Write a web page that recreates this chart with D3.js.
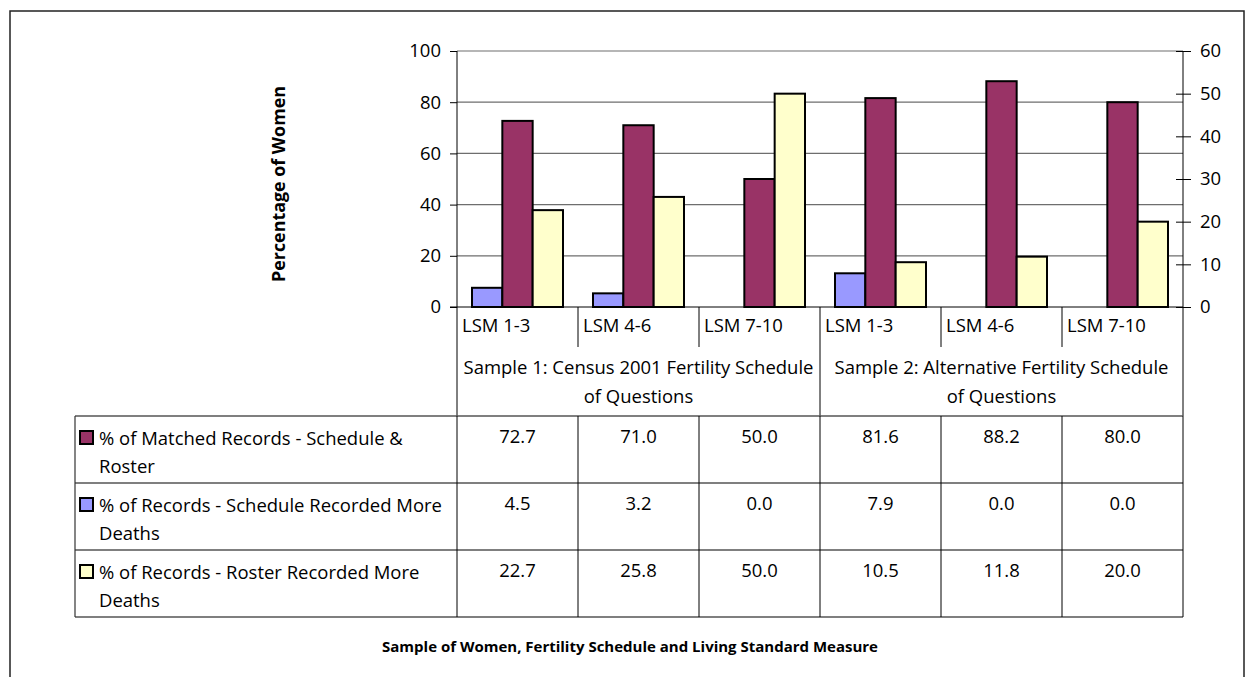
<!DOCTYPE html>
<html><head><meta charset="utf-8">
<script src="https://cdn.jsdelivr.net/npm/d3@7"></script>
<style>
html,body{margin:0;padding:0;background:#fff;}
svg{display:block;}
text{font-family:"Open Sans", Lato, sans-serif;fill:#000;}
</style></head>
<body>
<svg id="chart" width="1246" height="677"></svg>
<script>
const categories = ["LSM 1-3","LSM 4-6","LSM 7-10","LSM 1-3","LSM 4-6","LSM 7-10"];
const groupLabels = [
  ["Sample 1: Census 2001 Fertility Schedule","of Questions"],
  ["Sample 2: Alternative Fertility Schedule","of Questions"]
];
const matched = [72.7, 71.0, 50.0, 81.6, 88.2, 80.0];
const scheduleMore = [4.5, 3.2, 0.0, 7.9, 0.0, 0.0];
const rosterMore = [22.7, 25.8, 50.0, 10.5, 11.8, 20.0];
const seriesLabels = [
  ["% of Matched Records - Schedule &","Roster"],
  ["% of Records - Schedule Recorded More","Deaths"],
  ["% of Records - Roster Recorded More","Deaths"]
];
const leftTicks = [0,20,40,60,80,100];
const rightTicks = [0,10,20,30,40,50,60];
const yTitle = "Percentage of Women";
const xTitle = "Sample of Women, Fertility Schedule and Living Standard Measure";

const colors = {matched:"#993366", schedule:"#9999FF", roster:"#FFFFCC"};

const svg = d3.select("#chart");
const L = 457, R = 1183, T = 51, B = 307;
const tableLeft = 75;
const rowY = [416, 483, 550, 617];

// fit a font size so that a given string has a target width
function fitSize(str, target, weight){
  const t = svg.append("text").style("font-size","100px").style("font-weight",weight||"normal").text(str);
  const w = t.node().getComputedTextLength();
  t.remove();
  return 100*target/w;
}
const fs = Math.min(19, fitSize("Sample 1: Census 2001 Fertility Schedule", 350));
const fsY = fitSize(yTitle, 196, "bold");
const fsX = fitSize(xTitle, 496, "bold");

// outer frame
svg.append("rect").attr("x",10).attr("y",11).attr("width",1234).attr("height",700)
  .attr("fill","#fff").attr("stroke","#222").attr("stroke-width",1.5);

const x = d3.scaleBand().domain(d3.range(categories.length)).range([L,R]).paddingInner(0).paddingOuter(0);
const seriesOrder = ["schedule","matched","roster"];
const xs = d3.scaleBand().domain(seriesOrder).range([15, x.bandwidth()-15]);
const yL = d3.scaleLinear().domain([0,100]).range([B,T]);
const yR = d3.scaleLinear().domain([0,60]).range([B,T]);

// gridlines
svg.append("g").selectAll("line").data(leftTicks.filter(d=>d>0)).join("line")
  .attr("x1",L).attr("x2",R).attr("y1",d=>yL(d)).attr("y2",d=>yL(d))
  .attr("stroke","#6e6e6e").attr("stroke-width",1.2);

// bars
const barData = [];
categories.forEach((c,i)=>{
  barData.push({i, s:"schedule", v:scheduleMore[i], y:yR});
  barData.push({i, s:"matched", v:matched[i], y:yL});
  barData.push({i, s:"roster", v:rosterMore[i], y:yR});
});
svg.append("g").selectAll("rect").data(barData.filter(d=>d.v>0)).join("rect")
  .attr("x",d=>x(d.i)+xs(d.s)).attr("width",xs.bandwidth())
  .attr("y",d=>d.y(d.v)).attr("height",d=>B-d.y(d.v))
  .attr("fill",d=>colors[d.s]).attr("stroke","#000").attr("stroke-width",2);

// left axis
const gL = svg.append("g").attr("transform",`translate(${L},0)`)
  .call(d3.axisLeft(yL).tickValues(leftTicks).tickSize(7).tickPadding(9).tickFormat(d3.format("d")));
gL.select(".domain").remove();
gL.selectAll("line").attr("stroke","#000");
gL.selectAll("text").style("font-size",fs+"px").style("font-family",null);
svg.append("line").attr("x1",L).attr("x2",L).attr("y1",T).attr("y2",B).attr("stroke","#000");

// right axis
const gR = svg.append("g").attr("transform",`translate(${R},0)`)
  .call(d3.axisRight(yR).tickValues(rightTicks).tickSize(8).tickPadding(9).tickFormat(d3.format("d")));
gR.select(".domain").remove();
gR.selectAll("line").attr("stroke","#000").attr("x1",-7);
gR.selectAll("text").style("font-size",fs+"px").style("font-family",null);
svg.append("line").attr("x1",R).attr("x2",R).attr("y1",T).attr("y2",B).attr("stroke","#000");

// zero line
svg.append("line").attr("x1",L-7).attr("x2",R).attr("y1",B).attr("y2",B).attr("stroke","#000");

// category labels
svg.append("g").selectAll("text").data(categories).join("text")
  .attr("x",(d,i)=>x(i)+5).attr("y",332).style("font-size",fs+"px").text(d=>d);

// category dividers (short)
svg.append("g").selectAll("line").data([1,2,4,5]).join("line")
  .attr("x1",i=>x(i)).attr("x2",i=>x(i)).attr("y1",B).attr("y2",347).attr("stroke","#000");

// group dividers (full)
svg.append("g").selectAll("line").data([0,3,6]).join("line")
  .attr("x1",i=>i<6?x(i):R).attr("x2",i=>i<6?x(i):R).attr("y1",B).attr("y2",rowY[0]).attr("stroke","#000");

// group labels
groupLabels.forEach((lines,g)=>{
  const cx = (x(g*3) + (g*3+3<6 ? x(g*3+3) : R))/2;
  lines.forEach((t,k)=>{
    svg.append("text").attr("x",cx).attr("y",374+k*29).attr("text-anchor","middle")
      .style("font-size",fs+"px").text(t);
  });
});

// table
const tg = svg.append("g");
rowY.forEach(y=>{
  tg.append("line").attr("x1",tableLeft).attr("x2",R).attr("y1",y).attr("y2",y)
    .attr("stroke","#555").attr("stroke-width",1.5);
});
tg.append("line").attr("x1",tableLeft).attr("x2",tableLeft).attr("y1",rowY[0]).attr("y2",rowY[3]).attr("stroke","#333").attr("stroke-width",1.2);
d3.range(7).forEach(i=>{
  const xx = i<6?x(i):R;
  tg.append("line").attr("x1",xx).attr("x2",xx).attr("y1",rowY[0]).attr("y2",rowY[3]).attr("stroke","#000");
});

const rows = [
  {s:"matched", vals:matched},
  {s:"schedule", vals:scheduleMore},
  {s:"roster", vals:rosterMore}
];
rows.forEach((r,ri)=>{
  const y0 = rowY[ri];
  tg.append("rect").attr("x",80).attr("y",y0+15).attr("width",13).attr("height",13)
    .attr("fill",colors[r.s]).attr("stroke","#000").attr("stroke-width",2);
  seriesLabels[ri].forEach((t,k)=>{
    tg.append("text").attr("x",99).attr("y",y0+29+k*28).style("font-size",fs+"px").text(t);
  });
  r.vals.forEach((v,i)=>{
    tg.append("text").attr("x",x(i)+x.bandwidth()/2).attr("y",y0+27).attr("text-anchor","middle")
      .style("font-size",fs+"px").text(d3.format(".1f")(v));
  });
});

// axis titles
svg.append("text").attr("transform","translate(285,184) rotate(-90)").attr("text-anchor","middle")
  .style("font-size",fsY+"px").style("font-weight","bold").text(yTitle);
svg.append("text").attr("x",630).attr("y",652).attr("text-anchor","middle")
  .style("font-size",fsX+"px").style("font-weight","bold").text(xTitle);
</script>
</body></html>
